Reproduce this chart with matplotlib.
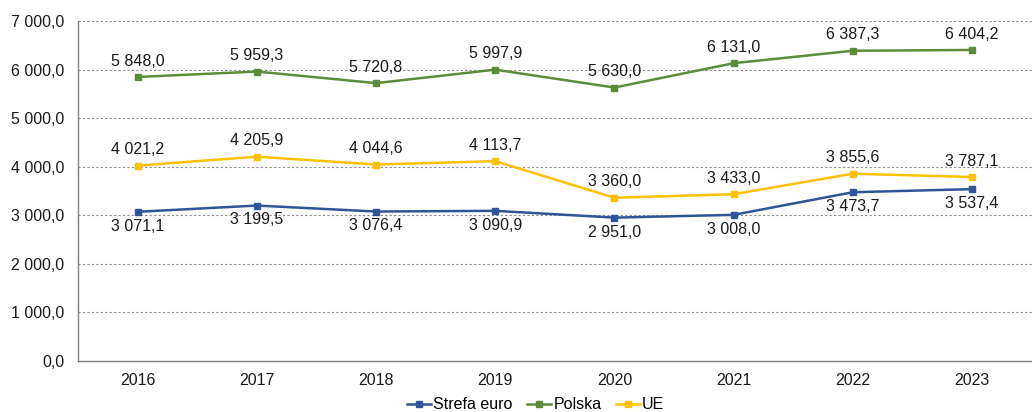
import matplotlib
matplotlib.use('Agg')
import matplotlib.pyplot as plt
from matplotlib.ticker import FuncFormatter

plt.rcParams['font.family'] = ['Liberation Sans', 'DejaVu Sans']

years = ['2016', '2017', '2018', '2019', '2020', '2021', '2022', '2023']
strefa_euro = [3071.1, 3199.5, 3076.4, 3090.9, 2951.0, 3008.0, 3473.7, 3537.4]
polska = [5848.0, 5959.3, 5720.8, 5997.9, 5630.0, 6131.0, 6387.3, 6404.2]
ue = [4021.2, 4205.9, 4044.6, 4113.7, 3360.0, 3433.0, 3855.6, 3787.1]

y_ticks = [0, 1000, 2000, 3000, 4000, 5000, 6000, 7000]


def pl_fmt(v):
    s = f'{v:,.1f}'
    return s.replace(',', ' ').replace('.', ',')


series = [
    ('Strefa euro', strefa_euro, '#2F5597', 'below'),
    ('Polska', polska, '#5B8C3A', 'above'),
    ('UE', ue, '#FFC000', 'above'),
]

fs = 11.5
fig = plt.figure(figsize=(10.32, 4.12), dpi=100)
ax = fig.add_axes([0.0756, 0.124, 0.924, 0.825])

x = list(range(len(years)))
for name, vals, color, pos in series:
    ax.plot(x, vals, color=color, lw=1.8, marker='s', ms=4.5, label=name)
    for xi, v in zip(x, vals):
        if pos == 'above':
            ax.annotate(pl_fmt(v), (xi, v), xytext=(0, 6), textcoords='offset points',
                        ha='center', va='bottom', fontsize=fs, color='#1a1a1a')
        else:
            ax.annotate(pl_fmt(v), (xi, v), xytext=(0, -5), textcoords='offset points',
                        ha='center', va='top', fontsize=fs, color='#1a1a1a')

ax.set_xlim(-0.5, len(years) - 0.5)
ax.set_ylim(0, 7000)
ax.set_xticks(x)
ax.set_xticklabels(years)
ax.set_yticks(y_ticks)
ax.yaxis.set_major_formatter(FuncFormatter(lambda v, p: pl_fmt(v)))
ax.tick_params(axis='both', length=0, labelsize=fs, colors='#1a1a1a')
ax.tick_params(axis='y', pad=10)
ax.tick_params(axis='x', pad=9)
ax.grid(axis='y', color='#8c8c8c', ls=(0, (2, 2)), lw=0.8)
ax.set_axisbelow(True)
for side in ['top', 'right']:
    ax.spines[side].set_visible(False)
for side in ['left', 'bottom']:
    ax.spines[side].set_color('#808080')
    ax.spines[side].set_linewidth(1)

fig.legend(*ax.get_legend_handles_labels(), loc='center', bbox_to_anchor=(0.519, 0.017),
           ncol=3, frameon=False, fontsize=fs, handlelength=1.5, handletextpad=0.15,
           columnspacing=0.9, borderpad=0)

fig.savefig('out.png', dpi=100)
